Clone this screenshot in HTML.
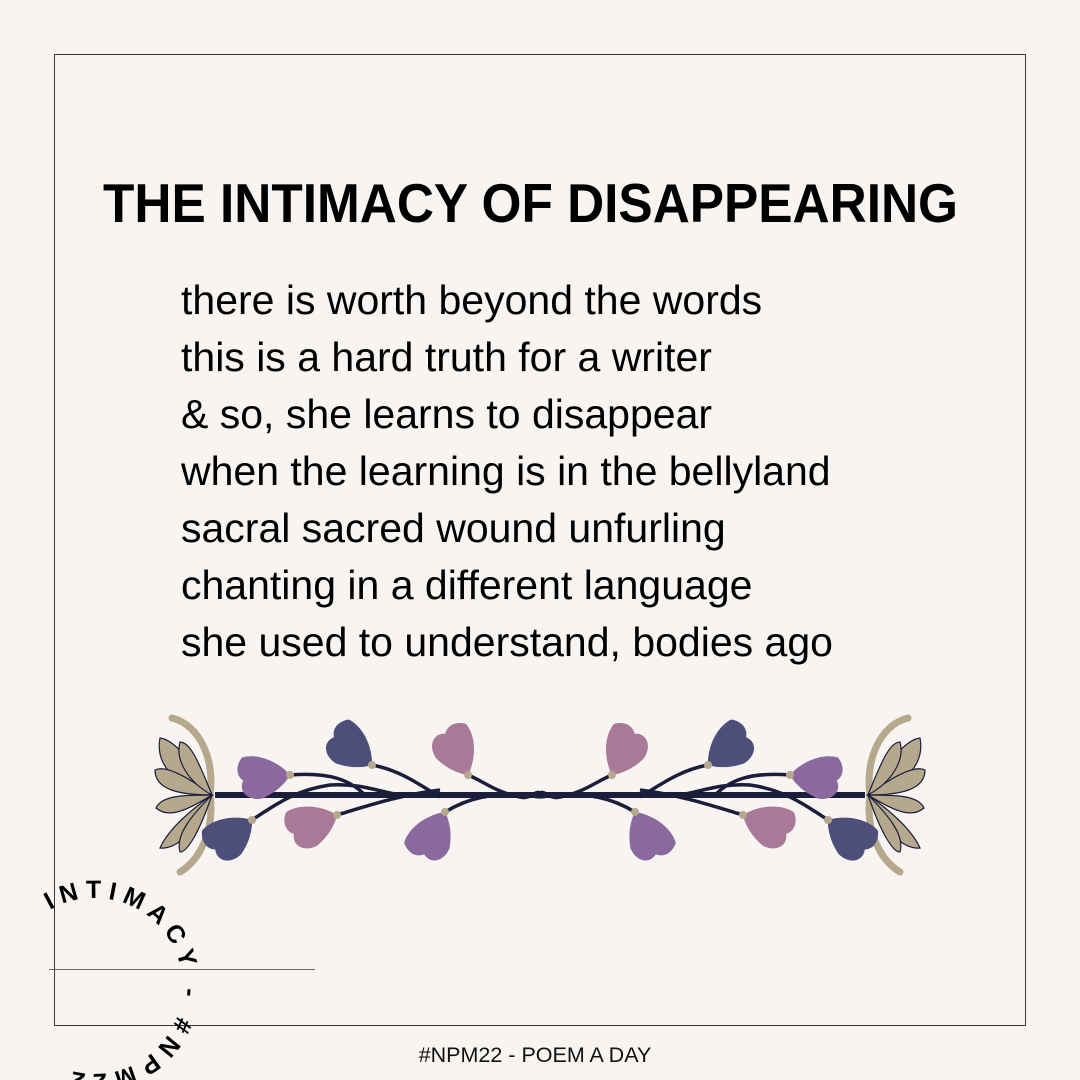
<!DOCTYPE html>
<html><head><meta charset="utf-8"><style>
html,body{margin:0;padding:0;background:#f7f4f1;}
svg{display:block;}
</style></head><body>
<svg width="1080" height="1080" viewBox="0 0 1080 1080" xmlns="http://www.w3.org/2000/svg">
<rect width="1080" height="1080" fill="#f7f4f1"/>
<rect x="54.5" y="54.5" width="971" height="971" fill="none" stroke="#3a3838" stroke-width="1"/>
<line x1="49" y1="969.5" x2="315" y2="969.5" stroke="#6a6766" stroke-width="1"/>
<text x="103" y="222" font-family="Liberation Sans, sans-serif" font-weight="bold" font-size="55" textLength="855" lengthAdjust="spacingAndGlyphs" fill="#000">THE INTIMACY OF DISAPPEARING</text>
<g font-family="Liberation Sans, sans-serif" font-size="41" fill="#000">
<text x="181" y="314">there is worth beyond the words</text>
<text x="181" y="371">this is a hard truth for a writer</text>
<text x="181" y="428">&amp; so, she learns to disappear</text>
<text x="181" y="485">when the learning is in the bellyland</text>
<text x="181" y="542">sacral sacred wound unfurling</text>
<text x="181" y="599">chanting in a different language</text>
<text x="181" y="656">she used to understand, bodies ago</text>
</g>
<text x="535" y="1062" text-anchor="middle" font-family="Liberation Sans, sans-serif" font-size="21.5" fill="#111">#NPM22 - POEM A DAY</text>
<defs>
<path id="circ" d="M50,910 A88,88 0 1 1 44,1058"/>
<path id="pet" d="M0,0 C-10,-13 -30,-24 -47,-20 C-55,-11 -53,-1 -47,3 C-53,14 -43,24 -29,22 C-15,17 -5,8 0,0Z"/>
<g id="half">
<path d="M172,718 C200,725 215,760 210,795 C215,830 200,860 180,872" fill="none" stroke="#b5a88c" stroke-width="7" stroke-linecap="round"/>
<g fill="#b5a88c" stroke="#1b1d3a" stroke-width="1.2">
<path d="M212,795 C190,760 175,740 160,738 C155,765 175,785 212,795Z"/>
<path d="M212,795 C185,775 165,765 155,770 C155,790 180,795 212,795Z"/>
<path d="M212,795 C185,795 162,795 156,808 C170,820 190,808 212,795Z"/>
<path d="M212,795 C188,812 168,830 160,848 C182,850 198,822 212,795Z"/>
<path d="M212,795 C198,760 190,742 180,742 C175,760 188,782 212,795Z"/>
<path d="M212,795 C200,830 188,852 180,852 C175,835 192,815 212,795Z"/>
</g>
<path d="M215,795 L540,795" stroke="#1b1d3a" stroke-width="6" fill="none"/>
<g stroke="#1b1d3a" stroke-width="3.5" fill="none">
<path d="M290,775 C330,772 350,780 365,795"/>
<path d="M372,765 C400,770 420,785 440,797"/>
<path d="M468,775 C485,782 495,792 520,797 C530,800 535,790 540,793"/>
<path d="M252,820 C275,805 295,790 330,785 C360,783 380,792 400,795"/>
<path d="M337,815 C370,805 400,795 440,790"/>
<path d="M445,812 C465,800 490,790 540,797"/>
</g>
<g>
<use href="#pet" transform="translate(290,775) rotate(-3)" fill="#8a6a9e"/>
<use href="#pet" transform="translate(372,765) rotate(40)" fill="#4d4e7a"/>
<use href="#pet" transform="translate(468,775) rotate(65)" fill="#a87a98"/>
<use href="#pet" transform="translate(252,820) rotate(-35)" fill="#4d4e7a"/>
<use href="#pet" transform="translate(337,815) rotate(-20)" fill="#a87a98"/>
<use href="#pet" transform="translate(445,812) rotate(-60)" fill="#8a6a9e"/>
</g>
<g fill="#b5a88c">
<circle cx="290" cy="775" r="4"/><circle cx="372" cy="765" r="4"/><circle cx="468" cy="775" r="4"/>
<circle cx="252" cy="820" r="4"/><circle cx="337" cy="815" r="4"/><circle cx="445" cy="812" r="4"/>
</g>
</g>
</defs>
<use href="#half"/>
<use href="#half" transform="translate(1080,0) scale(-1,1)"/>
<text font-family="Liberation Sans, sans-serif" font-weight="bold" font-size="25" fill="#000"><textPath href="#circ" textLength="345" lengthAdjust="spacing">INTIMACY - #NPM22</textPath></text>
</svg>
</body></html>
